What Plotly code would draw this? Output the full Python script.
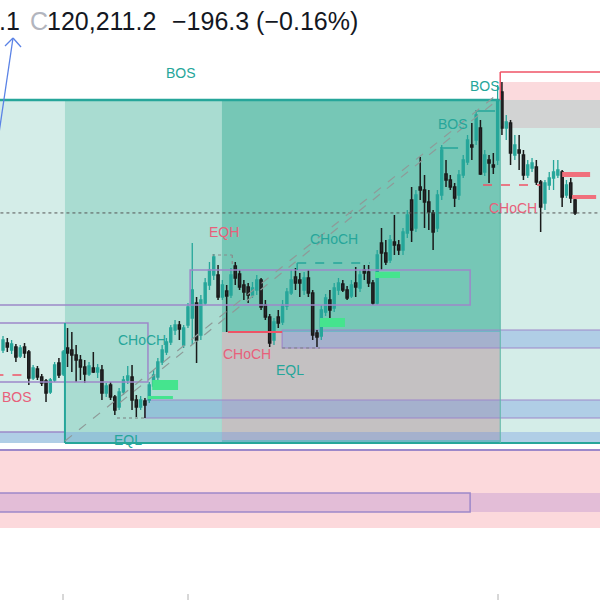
import plotly.graph_objects as go

# ---------------- data (prices) ----------------
open_ = [117470,117610,117470,117530,117350,117530,117430,116910,117090,116930,
         116850,116630,116870,117210,116990,117510,117470,117370,117270,117130,
         116990,117110,117030,117070,116610,116770,116530,116330,116630,116870,
         116930,116470,116330,116450,116470,116750,116930,117230,117430,117630,
         117870,117970,117570,117970,118110,118410,117770,118410,118770,118970,
         118970,118530,118650,118570,119150,118990,118770,118730,118570,118670,
         118870,118370,118130,117670,118130,118030,118350,118610,118930,118870,
         118670,118910,118610,117810,117750,118230,118470,118310,118670,118790,
         118670,118550,118810,118710,119070,119030,118810,118410,119610,119410,
         119270,119630,119570,119470,119810,120470,119910,120730,120670,120430,
         120210,119910,120570,120990,120870,120730,120570,120970,121230,121570,
         121670,121910,121030,121270,121170,121270,122630,121910,122010,121370,
         121470,121370,120970,121110,121130,120830,120410,120770,120910,120970,
         121030,120570,120810,120470]
high = [117750,117710,117670,117590,117570,117610,117470,117170,117150,116990,
        116890,116910,117230,117310,117470,117910,117830,117570,117370,117270,
        117230,117430,117190,117170,116810,116830,116570,116710,116950,117150,
        117170,116570,116550,116510,116830,117070,117310,117570,117710,117970,
        118070,118050,117970,118410,119610,118530,118570,118910,119230,119390,
        119170,118870,118770,119110,119230,119070,118870,118810,118830,118970,
        118910,118470,118190,118110,118270,118470,118710,119070,119110,119010,
        119030,119070,118670,117870,118370,118590,118670,118810,118910,118870,
        118750,118870,119130,119070,119170,119170,118870,119470,119910,119670,
        119770,120170,119670,119910,120270,120730,120670,121330,120970,120670,
        120270,120670,121570,121270,120970,120810,121070,121370,121770,122010,
        122270,122070,121470,121370,121410,122770,122830,122170,122070,121770,
        121770,121470,121270,121310,121270,120870,120870,121030,121270,121270,
        121070,120870,120910,120510]
low = [117410,117430,117390,117230,117310,117310,116770,116870,116870,116750,
       116430,116590,116830,116910,116950,117130,117030,116830,116870,116810,
       116950,117010,116910,116470,116530,116470,116170,116270,116570,116790,
       116270,116130,116270,116110,116410,116670,116870,117170,117370,117570,
       117770,117670,117510,117910,117570,117210,117670,118370,118670,118870,
       118470,118470,117830,118510,118770,118670,118470,118410,118510,118570,
       118270,118070,117530,117570,117910,117970,118270,118570,118670,118530,
       118570,118530,117670,117530,117670,118150,118110,118230,118570,118630,
       118470,118510,118530,118630,118870,118730,118370,118370,119070,119170,
       119210,119370,119370,119370,119710,119630,119830,120470,119910,119870,
       119470,119830,120470,120730,120670,120330,120470,120910,121170,121270,
       121570,120970,120950,120810,120990,121170,121770,121670,121170,121270,
       121070,120870,120910,121030,120770,119830,120270,120670,120670,120910,
       120330,120510,120410,120170]
close = [117670,117530,117590,117330,117510,117410,116910,117110,116930,116810,
         116610,116870,117170,116970,117430,117410,117370,117270,117130,116990,
         117150,117030,117110,116610,116750,116530,116270,116630,116870,116950,
         116470,116330,116470,116370,116770,116970,117230,117470,117630,117910,
         117970,117890,117910,118330,118670,117670,118470,118810,119070,119330,
         118530,118770,118550,118970,118910,118730,118630,118570,118710,118870,
         118330,118130,117610,118030,118010,118370,118630,118870,118810,118810,
         118910,118610,117770,117730,118270,118510,118270,118710,118810,118670,
         118510,118770,118730,118970,119010,118810,118410,119370,119410,119230,
         119670,119570,119470,119830,120170,119870,120570,120670,120430,120230,
         119830,120570,121470,120870,120730,120510,120970,121270,121670,121530,
         122170,120990,121370,121210,121130,122470,121910,122030,121410,121570,
         121410,120970,121170,121210,120830,120330,120810,120910,121030,121070,
         120530,120770,120510,120211.2]
bars = list(range(len(close)))

last_price = 120211.2
header_close = "120,211.2"
header_change = "\u2212196.3 (\u22120.16%)"

# structure levels (prices)
bos_top = 122470
box_bottom = 115610
eq_bottom = 115830
premium_top = 123030
premium_fill_top = 122830
gray_top_bottom = 121910
discount_top, discount_bottom = 115470, 113910
band_top, band_bottom = 114610, 114230

TEAL = "#26a69a"
RED = "#ef5366"
REDTXT = "#e8607a"
PURPLE = "#9d88c9"
BLUE_FILL = "rgba(110,150,225,0.35)"
GREEN = "#45e48e"

fig = go.Figure()
fig.add_trace(go.Candlestick(
    x=bars, open=open_, high=high, low=low, close=close,
    increasing=dict(line=dict(color=TEAL, width=1.3), fillcolor=TEAL),
    decreasing=dict(line=dict(color="#1a1a1a", width=1.5), fillcolor="#2e3138"),
    whiskerwidth=0, hoverinfo="skip", showlegend=False))

shapes = []
def rect(x0, x1, y0, y1, fill, line=None, lw=0, layer="below", dash=None):
    d = dict(type="rect", xref="x", yref="y", x0=x0, x1=x1, y0=y0, y1=y1,
             fillcolor=fill, layer=layer, line=dict(width=lw, color=line or "rgba(0,0,0,0)"))
    if dash: d["line"]["dash"] = dash
    shapes.append(d)

def seg(x0, y0, x1, y1, color, w=1, dash=None, layer="above"):
    d = dict(type="line", xref="x", yref="y", x0=x0, y0=y0, x1=x1, y1=y1,
             layer=layer, line=dict(color=color, width=w))
    if dash: d["line"]["dash"] = dash
    shapes.append(d)

L, R = -2, 141
# background zones
rect(L, R, box_bottom, bos_top, "#d4ede8")
rect(14.4, 115.6, box_bottom, bos_top, "#a9dcd1")
rect(50.9, 115.6, box_bottom, bos_top, "#76c7b6")
rect(115.6, R, bos_top, premium_fill_top, "#fbdadd")
rect(115.6, R, gray_top_bottom, bos_top, "#d2d3d3")
rect(50.9, 115.6, 115670, 117830, "#c4c1c2")
rect(L, R, discount_bottom, discount_top, "#fcd9dc")
rect(L, R, band_bottom, band_top, "rgba(160,120,205,0.28)")
rect(L, 108.6, band_bottom, band_top, "rgba(0,0,0,0)", PURPLE, 1.5)
rect(L, R, box_bottom, eq_bottom, BLUE_FILL)
rect(33.0, R, 116110, 116470, BLUE_FILL, PURPLE, 1.2)
rect(64.9, R, 117510, 117870, BLUE_FILL, PURPLE, 1.2)

# purple boxes
rect(43.5, 108.6, 118370, 119070, "rgba(0,0,0,0)", PURPLE, 1.5, layer="above")
seg(L, 118370, 43.5, 118370, PURPLE, 1.5)
rect(L, 33.7, 116830, 118010, "rgba(0,0,0,0)", PURPLE, 1.5, layer="above")
seg(L, eq_bottom, 14.4, eq_bottom, PURPLE, 1.5)
seg(L, 115470, R, 115470, PURPLE, 2)

# teal structure lines
seg(L, bos_top, 115.6, bos_top, TEAL, 2.5)
seg(14.4, box_bottom, R, box_bottom, TEAL, 2)
seg(14.4, 118010, 14.4, box_bottom, TEAL, 2)
seg(115.6, bos_top, 115.6, box_bottom, "#5fb9a8", 1)
seg(68.4, 119210, 85.3, 119210, TEAL, 1.5, "dash")
seg(68.4, 119210, 68.4, 119070, TEAL, 1.5)
seg(101.6, 121510, 105.8, 121510, TEAL, 1.5)
seg(109.8, 122250, 114.4, 122250, TEAL, 1.5)

# premium red lines
seg(115.6, premium_top, R, premium_top, RED, 1.5)
seg(115.6, premium_top, 115.6, bos_top, RED, 1.5)

# current price dotted
seg(L, last_price, R, last_price, "#555555", 1, "dot")

# diagonal dashed channel
seg(14.4, 115650, 115.6, 122630, "#8e9a98", 1.2, "dash")
seg(27.2, 116420, 114.4, 122430, "#8e9a98", 1.2, "dash")

# red levels
seg(52.3, 117830, 64.9, 117830, RED, 2)
seg(111.6, 120770, 124.9, 120770, RED, 1.5, "dash")
seg(L, 116970, 6.0, 116970, RED, 1.5, "dash")

# equal highs / lows dotted
seg(64.9, 117510, 73.7, 117510, "#7a7f80", 1.2, "dot")
seg(26.5, 116110, 33.0, 116110, "#7a7f80", 1.2, "dot")
seg(48.6, 119370, 53.3, 119370, "#8a8a8a", 1.2, "dot")
seg(53.3, 119370, 53.3, 119170, "#8a8a8a", 1.2, "dot")

# order blocks
rect(34.7, 40.7, 116670, 116870, GREEN, layer="above")
rect(33.7, 39.5, 116490, 116550, GREEN, layer="above")
rect(73.7, 79.5, 117930, 118110, GREEN, layer="above")
rect(86.5, 92.3, 118910, 119030, GREEN, layer="above")
rect(130.0, 136.5, 120930, 121030, "#f0707c", layer="above")
rect(132.3, 137.9, 120490, 120570, "#f0707c", layer="above")

# arrow (paper coords)
def pseg(x0, y0, x1, y1, color, w):
    shapes.append(dict(type="line", xref="paper", yref="paper",
                       x0=x0/600, y0=1-y0/600, x1=x1/600, y1=1-y1/600,
                       line=dict(color=color, width=w)))
pseg(-2, 140, 13, 38, "#5a82e6", 1.3)
pseg(13, 38, 5, 46, "#5a82e6", 1.3)
pseg(13, 38, 21, 47, "#5a82e6", 1.3)
for tx in (63, 188, 498):
    pseg(tx, 594, tx, 600, "#b0b0b0", 1)

fig.update_layout(shapes=shapes)

FONT = "Liberation Sans, Arial, sans-serif"
labels = [
    ("BOS", 41.4, 123010, TEAL, "center"), ("BOS", 112.1, 122750, TEAL, "center"),
    ("BOS", 104.7, 121990, TEAL, "center"),
    ("EQH", 51.4, 119830, REDTXT, "center"), ("CHoCH", 32.3, 117670, TEAL, "center"),
    ("CHoCH", 77.0, 119690, TEAL, "center"),
    ("CHoCH", 56.7, 117390, REDTXT, "center"), ("CHoCH", 118.6, 120310, REDTXT, "center"),
    ("EQL", 29.1, 115670, TEAL, "center"), ("EQL", 66.7, 117070, TEAL, "center"),
    ("BOS", -0.7, 116530, REDTXT, "left"),
]
ann = []
for t, x, y, c, xa in labels:
    ann.append(dict(text=t, x=x, y=y, xref="x", yref="y", showarrow=False, xanchor=xa,
                    font=dict(family=FONT, size=14, color=c)))

def htext(t, px, color):
    ann.append(dict(text=t, x=px/600, y=1-21/600, xref="paper", yref="paper",
                    xanchor="left", yanchor="middle", showarrow=False, borderpad=0,
                    font=dict(family=FONT, size=25, color=color)))
htext(".1", -2, "#131722")
htext("C", 29, "#b2b5be")
htext(header_close, 46, "#131722")
htext(header_change, 171, "#131722")

fig.update_layout(
    annotations=ann,
    width=600, height=600, margin=dict(l=0, r=0, t=0, b=0),
    paper_bgcolor="white", plot_bgcolor="white",
    xaxis=dict(range=[-0.7, 138.8], visible=False, rangeslider=dict(visible=False), fixedrange=True),
    yaxis=dict(range=[112470, 124470], visible=False, fixedrange=True),
    showlegend=False,
)
fig.write_html("out.html", config=dict(displayModeBar=False),
               post_script="document.body.style.margin='0px';document.body.style.overflow='hidden';")
